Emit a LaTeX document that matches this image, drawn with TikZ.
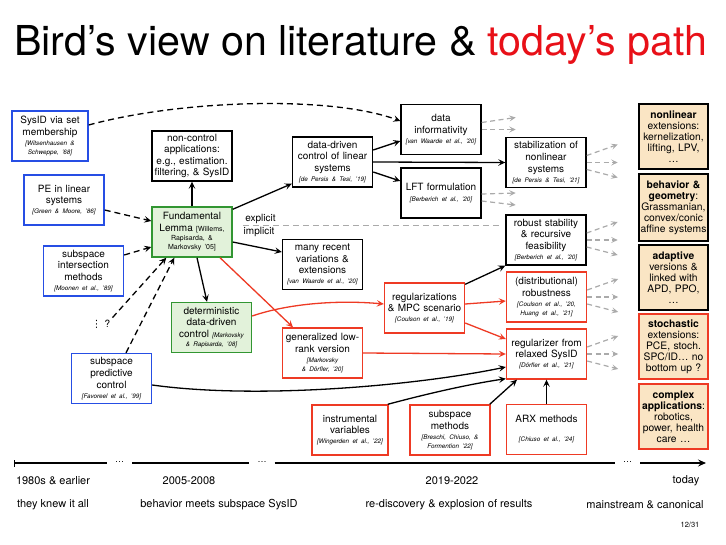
\documentclass[tikz,border=0pt]{standalone}
\usepackage{fontspec}
\setmainfont{TeX Gyre Heros}
\newfontfamily\djv{DejaVu Sans}
\usetikzlibrary{arrows.meta}
\definecolor{blueC}{RGB}{38,78,228}
\definecolor{greenC}{RGB}{50,150,50}
\definecolor{greenF}{RGB}{226,242,218}
\definecolor{redC}{RGB}{238,58,36}
\definecolor{beigeF}{RGB}{250,229,196}
\definecolor{titleRed}{RGB}{232,16,24}
\definecolor{grayA}{RGB}{170,170,170}
\newcommand{\mycite}[1]{{\fontsize{6.3}{8}\selectfont\itshape #1}}
\newcommand{\mysm}[1]{{\fontsize{7}{8}\selectfont #1}}
\begin{document}
\begin{tikzpicture}[x=1pt,y=-1pt,
  box/.style={draw=black, line width=1.4pt, fill=white, minimum width=80pt, minimum height=50pt,
    text width=78pt, align=center, inner sep=1pt, font=\fontsize{10}{11.6}\selectfont},
  kbox/.style={box},
  bbox/.style={box, draw=blueC},
  gbox/.style={box, draw=greenC, fill=greenF},
  rbox/.style={box, draw=redC},
  ybox/.style={box, fill=beigeF, minimum width=69pt, minimum height=65pt, text width=67pt,
    font=\fontsize{10.3}{11}\selectfont},
  arr/.style={line width=1.3pt, -{Stealth[length=7pt,width=6.5pt,inset=2.8pt]}},
  rarr/.style={arr, draw=redC},
  darr/.style={arr, dash pattern=on 6pt off 4pt},
  garr/.style={line width=1.2pt, draw=grayA, dash pattern=on 5pt off 3.5pt,
    -{Stealth[length=6.5pt,width=6pt,inset=2.8pt]}},
  gline/.style={line width=1.2pt, draw=grayA, dash pattern=on 6pt off 4pt},
  lab/.style={inner sep=0pt, font=\fontsize{10}{12}\selectfont},
  tlab/.style={inner sep=0pt, font=\fontsize{11}{13}\selectfont},
  dotn/.style={minimum width=25pt, inner sep=0pt, font=\fontsize{9}{10}\selectfont},
  tl/.style={line width=1.3pt}
]
\useasboundingbox[fill=white] (0,0) rectangle (726,544);

% title
\node[anchor=base west, inner sep=0pt, font=\fontsize{41.2}{48}\selectfont] (title) at (14,55)
  {Bird's view on literature \& \textcolor{titleRed}{today's path}};

% left column (blue)
\node[bbox, minimum width=76pt, text width=74pt] (sysid) at (50,136)
  {SysID via set\\membership\\[-1.5pt]\mycite{[Witsenhausen \&}\\[-3pt]\mycite{Schweppe, '68]}};
\node[bbox] (pe) at (64,200)
  {PE in linear\\systems\\[-1.5pt]\mycite{[Green \& Moore, '86]}};
\node[bbox] (ssi) at (83.5,271)
  {subspace\\intersection\\methods\\[-1.5pt]\mycite{[Moonen et al., '89]}};
\node[bbox] (spc) at (111.5,378.5)
  {subspace\\predictive\\control\\[-1.5pt]\mycite{[Favoreel et al., '99]}};
\node[inner sep=2pt, font=\fontsize{10}{12}\selectfont] (q) at (101,324) {{\djv ⋮}\hspace{3pt}?};

% middle
\node[kbox] (nca) at (192,156)
  {non-control\\applications:\\e.g., estimation.\\filtering, \& SysID};
\node[gbox] (fl) at (192,232)
  {Fundamental\\Lemma \mysm{[Willems,}\\[-2.5pt]\mysm{Rapisarda, \&}\\[-2.5pt]\mysm{Markovsky '05]}};
\node[gbox] (ddc) at (211.5,327.5)
  {deterministic\\data-driven\\control \mycite{[Markovsky}\\[-2pt]\mycite{\& Rapisarda, '08]}};
\node[kbox] (ddcl) at (332.5,162)
  {data-driven\\control of linear\\systems\\[-1.5pt]\mycite{[de Persis \& Tesi, '19]}};
\node[kbox] (info) at (441,129.5)
  {data\\informativity\\[-1.5pt]\mycite{[van Waarde et al., '20]}};
\node[kbox] (lft) at (441,193)
  {LFT formulation\\[-1.5pt]\mycite{[Berberich et al., '20]}};
\node[kbox] (stab) at (546,162.5)
  {stabilization of\\nonlinear\\systems\\[-1.5pt]\mycite{[de Persis \& Tesi, '21]}};
\node[kbox] (many) at (322.5,264.5)
  {many recent\\variations \&\\extensions\\[-1.5pt]\mycite{[van Waarde et al., '20]}};
\node[kbox] (robust) at (546,240)
  {robust stability\\\& recursive\\feasibility\\[-1.5pt]\mycite{[Berberich et al., '20]}};
\node[rbox] (dro) at (546.5,297)
  {(distributional)\\robustness\\[-1.5pt]\mycite{[Coulson et al., '20,}\\[-3pt]\mycite{Huang et al., '21]}};
\node[rbox] (regmpc) at (424.5,308)
  {regularizations\\\& MPC scenario\\[-1.5pt]\mycite{[Coulson et al., '19]}};
\node[rbox] (glr) at (322.5,353)
  {generalized low-\\rank version\\[-1pt]\mycite{[Markovsky}\\[-3pt]\mycite{\& Dörfler, '20]}};
\node[rbox] (reg) at (546.5,354)
  {regularizer from\\relaxed SysID\\[-1.5pt]\mycite{[Dörfler et al., '21]}};
\node[rbox, minimum width=76pt, text width=74pt] (iv) at (350,430)
  {instrumental\\variables\\[-1.5pt]\mycite{[Wingerden et al., '22]}};
\node[rbox] (ssm) at (450,430)
  {subspace\\methods\\[-1.5pt]\mycite{[Breschi, Chiuso, \&}\\[-3pt]\mycite{Formention '22]}};
\node[rbox] (arx) at (546.5,429.5)
  {ARX methods\\[7.4pt]\mycite{[Chiuso et al., '24]}};

% right column
\node[ybox] (nl) at (673.5,136.5)
  {\textbf{nonlinear}\\extensions:\\kernelization,\\lifting, LPV,\\\dots};
\node[ybox, minimum height=67pt] (beh) at (673.5,207.5)
  {\textbf{behavior \&}\\\textbf{geometry}:\\Grassmanian,\\convex/conic\\affine systems};
\node[ybox] (adap) at (673.5,277.5)
  {\textbf{adaptive}\\versions \&\\linked with\\APD, PPO,\\\dots};
\node[ybox, draw=redC] (stoch) at (673.5,346.5)
  {\textbf{stochastic}\\extensions:\\PCE, stoch.\\SPC/ID\dots{} no\\bottom up ?};
\node[ybox, draw=redC] (cplx) at (673.5,416.5)
  {\textbf{complex}\\\textbf{applications}:\\robotics,\\power, health\\care \dots};

% explicit / implicit
\node[lab] (expl) at (260.5,219) {explicit};
\node[lab] (impl) at (259,232) {implicit};
\coordinate (elA) at (243,225.5);
\coordinate (elB) at (500,225.5);
\draw[gline] (elA) -- (elB);

% black arrows
\draw[arr] (fl.north) -- (nca.south);
\draw[arr] ([yshift=-3pt]fl.north east) -- ([yshift=4pt]ddcl.south west);
\draw[arr] ([yshift=-10pt]fl.east) -- ([yshift=12.5pt]many.west);
\draw[arr] ([xshift=5pt]fl.south) -- ([xshift=-4.5pt]ddc.north);
\draw[arr] (ddcl.east) -- (stab.west);
\draw[arr] ([yshift=12pt]ddcl.east) -- ([yshift=-11.5pt]info.west);
\draw[arr] ([yshift=-10pt]ddcl.east) -- ([yshift=12pt]lft.west);
\draw[arr] ([yshift=-2pt]regmpc.north east) -- (robust.south west);
\draw[arr] ([yshift=-6.5pt]spc.east) .. controls (260,400) and (420,385) .. ([yshift=-13pt]reg.west);
\draw[arr] ([xshift=-1pt]iv.north east) .. controls (430,393) and (470,384) .. ([yshift=1pt]reg.south west);
\draw[arr] ([xshift=-1pt]ssm.north east) -- ([xshift=-29.5pt]reg.south);
\draw[arr] (arx.north) -- (reg.south);

% red arrows
\draw[rarr] ([xshift=28pt]fl.south) -- ([xshift=-29.5pt]glr.north);
\draw[rarr] ([yshift=11.5pt]ddc.east) .. controls (290,303) and (340,300) .. ([yshift=4pt]regmpc.west);
\draw[rarr] (glr.east) -- (reg.west);
\draw[rarr] ([yshift=4pt]regmpc.east) -- ([yshift=-4pt]dro.west);
\draw[rarr] ([yshift=-15pt]regmpc.east) -- ([yshift=15pt]reg.west);

% dashed arrows
\draw[darr] ([yshift=11pt]sysid.east) .. controls (180,100) and (330,95) .. ([yshift=8.5pt]info.west);
\draw[darr] ([yshift=-10pt]pe.east) -- ([yshift=11pt]fl.west);
\draw[darr] ([yshift=16pt]ssi.east) -- ([yshift=-15pt]fl.west);
\draw[darr] (q.north east) -- ([xshift=15pt]fl.south west);
\draw[darr] ([xshift=14.5pt]spc.north) -- ([xshift=23pt]fl.south west);

% gray fan-out arrows
\draw[garr] ([yshift=7pt]info.east) -- ++(34,-5);
\draw[garr] (info.east) -- ++(34,0);
\draw[garr] ([yshift=-1pt]lft.east) -- ++(34,-1);
\draw[garr] ([yshift=-8pt]lft.east) -- ++(34,4);
\foreach \n in {stab,robust,dro,reg}{
  \draw[garr] ([yshift=7pt]\n.east) -- ++(31,-11);
  \draw[garr] (\n.east) -- ++(31,0);
  \draw[garr] ([yshift=-7pt]\n.east) -- ++(31,8);
}

% timeline
\coordinate (tlA) at (14,463);
\coordinate (tlB) at (706,463);
\node[dotn] (tdA) at (119.5,462) {\dots};
\node[dotn] (tdB) at (262,462) {\dots};
\node[dotn] (tdC) at (627.5,462) {\dots};
\draw[tl, {Bar[width=7pt]}-] (tlA) -- (tdA.west |- tlA);
\draw[tl] (tdA.east |- tlA) -- (tdB.west |- tlA);
\draw[tl] (tdB.east |- tlA) -- (tdC.west |- tlA);
\draw[tl, -{Stealth[length=8pt,width=7pt,inset=3pt]}] (tdC.east |- tlA) -- (tlB);

\node[tlab] (y1) at (53,481) {1980s \& earlier};
\node[tlab] (y2) at (189,481) {2005-2008};
\node[tlab] (y3) at (452,481) {2019-2022};
\node[tlab] (y4) at (686,481) {today};
\node[tlab] (p1) at (53,505) {they knew it all};
\node[tlab] (p2) at (219,505) {behavior meets subspace SysID};
\node[tlab] (p3) at (449,505) {re-discovery \& explosion of results};
\node[tlab] (p4) at (645,505) {mainstream \& canonical};
\node[inner sep=0pt, font=\fontsize{7.5}{9}\selectfont] (pg) at (690,525) {12/31};
\end{tikzpicture}
\end{document}
